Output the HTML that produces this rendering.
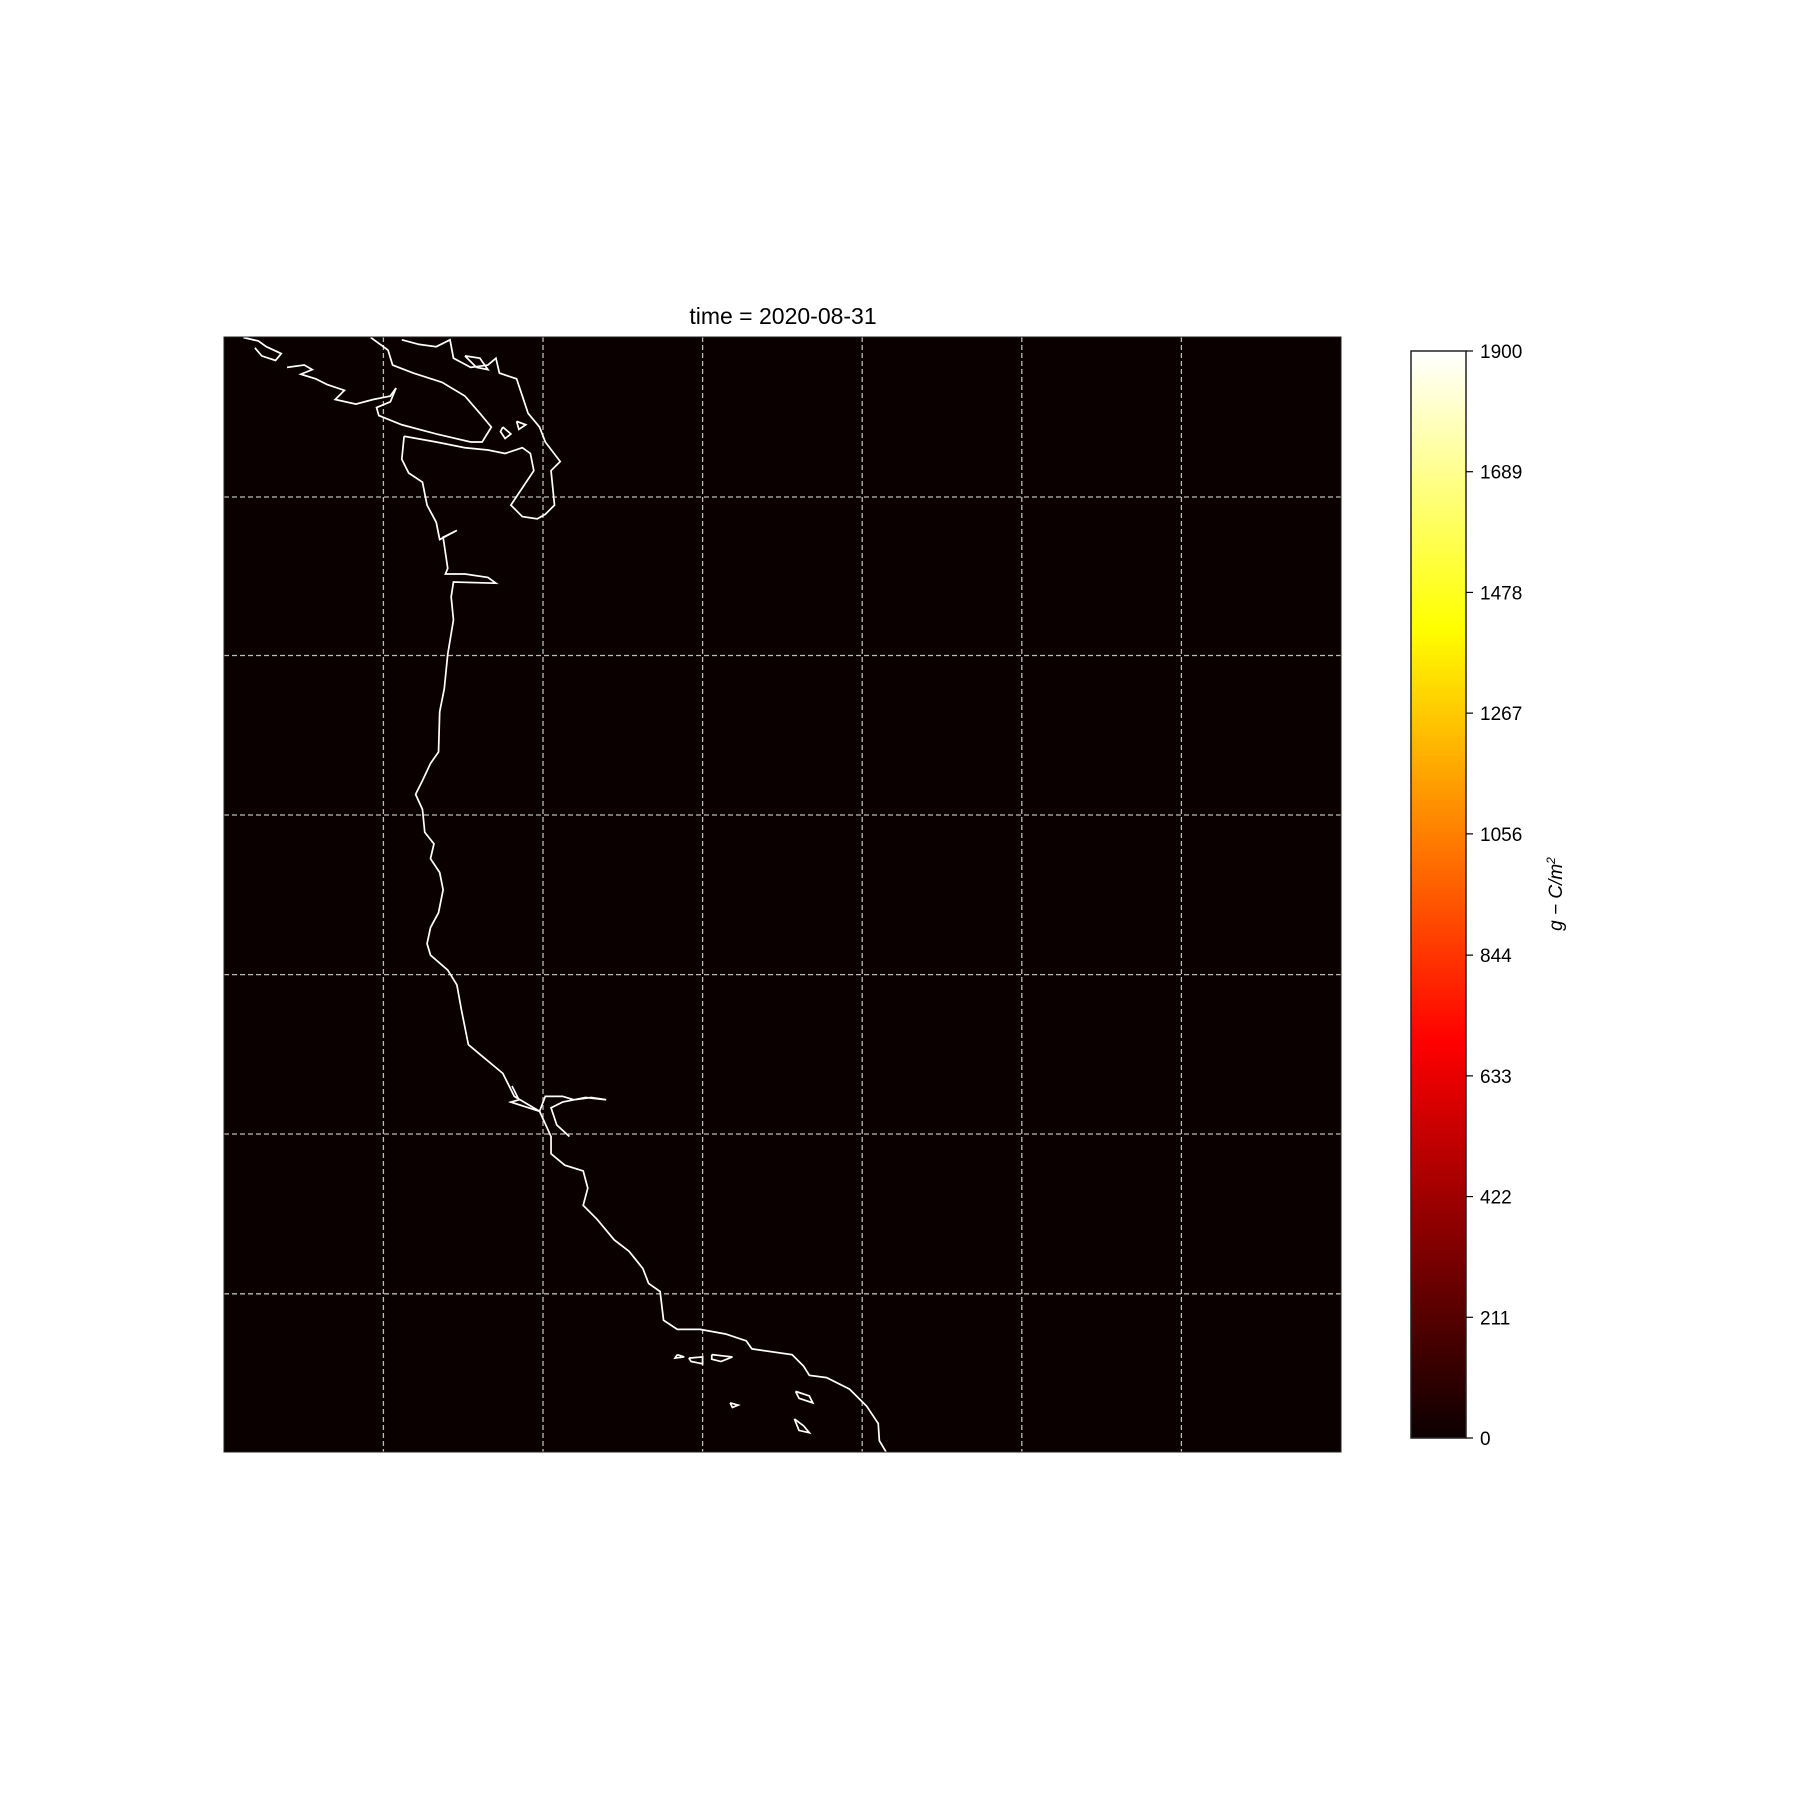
<!DOCTYPE html>
<html><head><meta charset="utf-8"><style>
html,body{margin:0;padding:0;background:#fff;width:1800px;height:1800px;overflow:hidden;font-family:"Liberation Sans","DejaVu Sans",sans-serif}
</style></head><body>
<svg width="1800" height="1800" viewBox="0 0 1800 1800">
<defs>
<linearGradient id="hot" x1="0" y1="0" x2="0" y2="1">
<stop offset="0" stop-color="#ffffff"/><stop offset="0.254" stop-color="#ffff00"/>
<stop offset="0.635" stop-color="#ff0000"/><stop offset="1" stop-color="#0b0000"/>
</linearGradient>
<clipPath id="mapclip"><rect x="224" y="337" width="1117" height="1115"/></clipPath>
</defs>
<text x="783" y="324" text-anchor="middle" font-size="23" fill="#000">time = 2020-08-31</text>
<rect x="224" y="337" width="1117" height="1115" fill="#0b0000"/>
<g id="grid" stroke="#bbb" stroke-width="1.3" stroke-dasharray="5,3"></g>
<g clip-path="url(#mapclip)">
<g transform="scale(1.148)" fill="none" stroke="#fff" stroke-width="1.5">
<polyline points="212,294 225,297 232,302 245,308 240,314 228,310 222,303"/>
<polyline points="250,320 265,318 272,322 262,326 275,330 285,335 300,340 292,348 310,352 325,348 340,345 345,338"/>
<polyline points="323,294 338,305 342,318 360,325 385,333 405,345 418,360 428,372 420,385 410,385 380,378 350,370 330,362 328,355 340,350 345,338"/>
<polyline points="350,296 365,300 380,302 392,296 395,312 410,320 425,318 432,312 435,325 450,330 455,345 460,360 470,372 475,385 488,402 480,410 483,440 475,448 468,452 455,450 445,440 455,425 465,410 462,395 455,390 440,395 425,392 405,390 380,385 352,380"/>
<polyline points="352,380 350,400 356,412 368,420 372,440 380,455 383,470 398,462 386,468 390,495 388,500 405,500 425,503 432,508 395,507 393,520 395,540 390,570 387,600 383,620 382,655 375,665 368,680 362,692 368,705 370,725 378,735 375,748 383,760 386,775 382,795 375,808 372,822 375,832 390,845 398,858 402,880 408,910 420,920 438,935 448,955 470,968 480,990 480,1005 492,1015 508,1020 512,1035 508,1050 520,1062 535,1080 548,1090 560,1105 565,1118 575,1125 578,1150 590,1158 610,1158 632,1162 650,1168 655,1175 690,1180 700,1190 705,1198 720,1200 740,1210 755,1225 765,1240 766,1255 772,1265"/>
<polyline points="446,946 452,958 445,960 470,968 475,955 490,955 500,958 515,956 528,958 510,956 490,960 480,965 485,980 496,990"/>
<polyline points="405,310 415,320 425,322 418,312 405,310"/>
<polyline points="438,372 445,378 440,382 436,376 438,372"/>
<polyline points="450,367 458,370 452,374 450,367"/>
<polyline points="590,1180 596,1182 588,1183 590,1180"/>
<polyline points="600,1183 612,1182 612,1188 602,1186 600,1183"/>
<polyline points="620,1180 638,1182 628,1186 620,1184 620,1180"/>
<polyline points="636,1222 643,1224 638,1226 636,1222"/>
<polyline points="693,1212 705,1216 708,1222 696,1218 693,1212"/>
<polyline points="692,1236 700,1242 705,1248 696,1246 692,1236"/>
</g></g>
<rect x="224" y="337" width="1117" height="1115" fill="none" stroke="#222" stroke-width="1"/>
<rect x="1411" y="351" width="55" height="1087" fill="url(#hot)" stroke="#222" stroke-width="1.5"/>
<g id="cbticks"></g>
<text transform="translate(1562,894) rotate(-90)" text-anchor="middle" font-size="19" font-style="italic" fill="#000">g − C/m<tspan font-size="12" dy="-7">2</tspan></text>
</svg>
<script>
const tickValues=[0,211,422,633,844,1056,1267,1478,1689,1900];
const gridX=[383.4,543,702.6,862.2,1021.8,1181.4];
const gridY=[497,655.5,815,974.6,1134,1293.8];
const NS='http://www.w3.org/2000/svg';
const g=document.getElementById('grid');
gridX.forEach(x=>{const l=document.createElementNS(NS,'line');l.setAttribute('x1',x);l.setAttribute('x2',x);l.setAttribute('y1',337);l.setAttribute('y2',1452);


g.appendChild(l);});
gridY.forEach(y=>{const l=document.createElementNS(NS,'line');l.setAttribute('y1',y);l.setAttribute('y2',y);l.setAttribute('x1',224);l.setAttribute('x2',1341);


g.appendChild(l);});
const ct=document.getElementById('cbticks');
const cy=v=>1438-(v/1900)*1087;
tickValues.forEach(v=>{const y=cy(v);
const l=document.createElementNS(NS,'line');l.setAttribute('x1',1466);l.setAttribute('x2',1473);l.setAttribute('y1',y);l.setAttribute('y2',y);l.setAttribute('stroke','#000');l.setAttribute('stroke-width','1.2');


ct.appendChild(l);
const t=document.createElementNS(NS,'text');t.setAttribute('x',1480);t.setAttribute('y',y+7);t.setAttribute('font-size','19');t.textContent=v;


ct.appendChild(t);});
</script>
</body></html>
